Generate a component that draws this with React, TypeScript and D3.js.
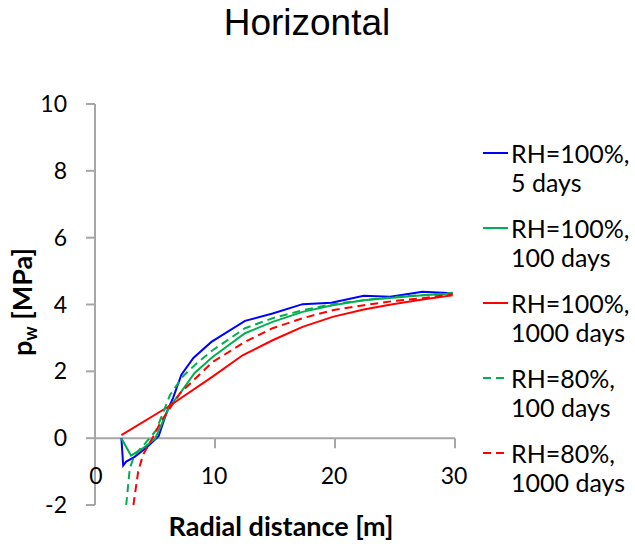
import React from 'react';
import * as d3 from 'd3';

// Radial distance [m] and pore water pressure pw [MPa]
const r5d = [2.2, 2.35, 2.6, 3.3, 4.3, 5.3, 6.0, 6.5, 7.2, 8.2, 9.7, 12.5, 14.8, 17.3, 19.7, 22.4, 24.6, 27.3, 29.8];
const p5d = [0, -0.82, -0.7, -0.56, -0.28, 0.06, 0.8, 1.2, 1.9, 2.4, 2.88, 3.51, 3.73, 4.01, 4.05, 4.26, 4.23, 4.38, 4.34];

const r100d = [2.2, 3.0, 4.0, 5.0, 6.2, 7.1, 8.3, 9.8, 12.5, 14.8, 17.3, 19.8, 22.4, 24.8, 27.3, 29.8];
const p100d = [0, -0.52, -0.3, -0.02, 0.94, 1.35, 1.95, 2.43, 3.14, 3.48, 3.78, 3.98, 4.13, 4.2, 4.28, 4.33];

const r1000d = [2.2, 6.1, 9.8, 12.3, 14.8, 17.3, 19.8, 22.4, 24.8, 27.3, 29.8];
const p1000d = [0.09, 0.94, 1.84, 2.48, 2.93, 3.33, 3.63, 3.85, 4.01, 4.15, 4.28];

const r80100d = [2.6, 2.9, 3.3, 4.2, 5.1, 6.25, 7.3, 8.5, 9.8, 12.5, 14.8, 17.3, 19.8, 22.4, 24.8, 27.3, 29.8];
const p80100d = [-2.0, -0.9, -0.5, -0.15, 0.24, 1.29, 1.84, 2.25, 2.63, 3.29, 3.59, 3.83, 4.01, 4.13, 4.22, 4.28, 4.35];

const r801000d = [3.2, 3.6, 4.0, 4.85, 5.5, 7.1, 9.8, 12.5, 14.8, 17.3, 19.8, 22.4, 24.8, 27.3, 29.8];
const p801000d = [-2.0, -1.0, -0.5, 0.04, 0.5, 1.35, 2.28, 2.88, 3.29, 3.59, 3.83, 3.98, 4.1, 4.19, 4.31];

const xTicks = [0, 10, 20, 30];
const yTicks = [-2, 0, 2, 4, 6, 8, 10];

const series = [
  { line1: 'RH=100%,', line2: '5 days', r: r5d, p: p5d, color: '#0000ff', dash: '' },
  { line1: 'RH=100%,', line2: '100 days', r: r100d, p: p100d, color: '#00b050', dash: '' },
  { line1: 'RH=100%,', line2: '1000 days', r: r1000d, p: p1000d, color: '#ff0000', dash: '' },
  { line1: 'RH=80%,', line2: '100 days', r: r80100d, p: p80100d, color: '#00b050', dash: '8,5' },
  { line1: 'RH=80%,', line2: '1000 days', r: r801000d, p: p801000d, color: '#ff0000', dash: '8,5' },
];

const W = 635;
const H = 548;
const axisColor = '#a6a6a6';
const font = 'Lato, "Open Sans", sans-serif';

export default function App() {
  const x = d3.scaleLinear().domain([0, 30]).range([95, 455]);
  const y = d3.scaleLinear().domain([-2, 10]).range([505, 104]);
  const line = d3.line<[number, number]>().x(d => x(d[0])).y(d => y(d[1]));

  return (
    <svg width={W} height={H} style={{ position: 'absolute', left: 0, top: 0 }}>
      <rect width={W} height={H} fill="#fff" />
      <text x={307} y={35} textAnchor="middle" fontFamily='"Liberation Sans", Arial, sans-serif' fontSize={37} fill="#000">
        Horizontal
      </text>

      {/* y axis */}
      <line x1={x(0)} x2={x(0)} y1={y(10)} y2={y(-2)} stroke={axisColor} strokeWidth={2} />
      {yTicks.map(t => (
        <g key={t}>
          <line x1={x(0) - 9} x2={x(0)} y1={y(t)} y2={y(t)} stroke={axisColor} strokeWidth={2} />
          <text x={x(0) - 28} y={y(t)} dy="0.35em" textAnchor="end" fontFamily={font} fontSize={23} fill="#000">
            {t}
          </text>
        </g>
      ))}

      {/* x axis at y = 0 */}
      <line x1={x(0)} x2={x(30)} y1={y(0)} y2={y(0)} stroke={axisColor} strokeWidth={2} />
      {xTicks.map(t => (
        <g key={t}>
          {t > 0 && <line x1={x(t)} x2={x(t)} y1={y(0)} y2={y(0) + 10} stroke={axisColor} strokeWidth={2} />}
          <text x={x(t) + (t === 0 ? 1 : -1)} y={476} dy="0.35em" textAnchor="middle" fontFamily={font} fontSize={23} fill="#000">
            {t}
          </text>
        </g>
      ))}

      {series.map((s, i) => (
        <path
          key={i}
          d={line(s.r.map((v, j) => [v, s.p[j]] as [number, number])) || ''}
          fill="none"
          stroke={s.color}
          strokeWidth={2}
          strokeDasharray={s.dash}
        />
      ))}

      <text x={281} y={527} dy="0.35em" textAnchor="middle" fontFamily={font} fontWeight="bold" fontSize={27} fill="#000">
        Radial distance [m]
      </text>
      <text transform="translate(23,302) rotate(-90)" textAnchor="middle" dy="0.35em" fontFamily={font} fontWeight="bold" fontSize={27} fill="#000">
        p<tspan fontSize={18} dy="5">w</tspan><tspan dy="-5"> [MPa]</tspan>
      </text>

      {series.map((s, i) => {
        const ly = 153 + i * 75;
        return (
          <g key={i}>
            <line x1={483} x2={508} y1={ly} y2={ly} stroke={s.color} strokeWidth={2} strokeDasharray={s.dash ? '8,5' : ''} />
            <text x={511} y={ly + 1} dy="0.35em" fontFamily={font} fontSize={25} fill="#000">{s.line1}</text>
            <text x={511} y={ly + 30} dy="0.35em" fontFamily={font} fontSize={25} fill="#000">{s.line2}</text>
          </g>
        );
      })}
    </svg>
  );
}
